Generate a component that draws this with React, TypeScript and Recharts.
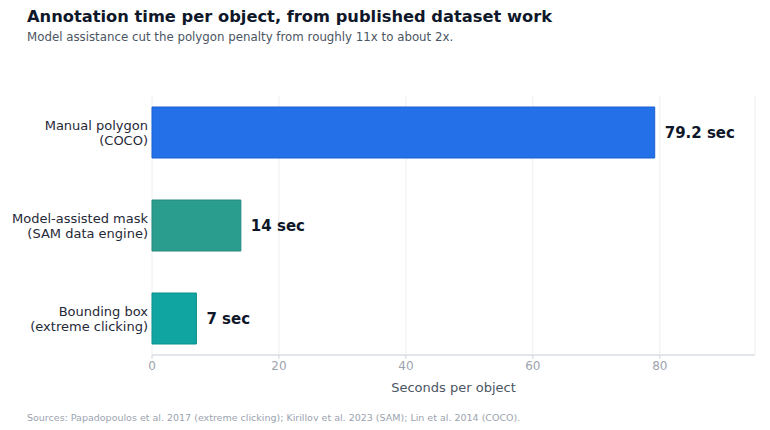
import React from "react";
import { Bar, BarChart, CartesianGrid, Cell, LabelList, XAxis, YAxis } from "recharts";

const categories = [
  "Manual polygon\n(COCO)",
  "Model-assisted mask\n(SAM data engine)",
  "Bounding box\n(extreme clicking)",
];
const seconds = [79.2, 14, 7];
const valueLabels = ["79.2 sec", "14 sec", "7 sec"];
const xTicks = [0, 20, 40, 60, 80];

const FILLS = ["#2370e8", "#2a9d8f", "#10a5a1"];
const STROKES = ["#1b5fd0", "#238a7d", "#0c8f8b"];
const FONT = "'DejaVu Sans', Verdana, sans-serif";

const data = categories.map((name, i) => ({ name, seconds: seconds[i], label: valueLabels[i] }));

function CategoryTick({ x, y, payload }: any) {
  const lines = String(payload.value).split("\n");
  return (
    <text x={x} y={y} textAnchor="end" fill="#1f2937" fontSize={13} fontFamily={FONT}>
      {lines.map((line, i) => (
        <tspan key={i} x={x} dy={i === 0 ? -(lines.length - 1) * 7.5 + 4.5 : 15}>
          {line}
        </tspan>
      ))}
    </text>
  );
}

export default function App() {
  return (
    <div
      style={{
        position: "absolute",
        left: 0,
        top: 0,
        width: 770,
        height: 430,
        background: "#fff",
        fontFamily: FONT,
      }}
    >
      <div style={{ position: "absolute", left: 27, top: 7, fontSize: 16.3, fontWeight: 700, color: "#0f172a" }}>
        Annotation time per object, from published dataset work
      </div>
      <div style={{ position: "absolute", left: 27, top: 30, fontSize: 11.8, color: "#4b5563" }}>
        Model assistance cut the polygon penalty from roughly 11x to about 2x.
      </div>

      <div style={{ position: "absolute", left: 0, top: 0 }}>
        <BarChart
          width={770}
          height={400}
          data={data}
          layout="vertical"
          margin={{ top: 96, right: 15, bottom: 0, left: 0 }}
          barCategoryGap={21}
        >
          <CartesianGrid horizontal={false} stroke="#eceef1" />
          <XAxis
            type="number"
            domain={[0, 95]}
            ticks={xTicks}
            tick={{ fill: "#9ca3af", fontSize: 12, fontFamily: FONT }}
            tickLine={{ stroke: "#d1d5db" }}
            tickSize={4}
            axisLine={{ stroke: "#d8dce2", strokeWidth: 1.5 }}
            height={45}
            label={{
              value: "Seconds per object",
              position: "insideBottom",
              offset: 8,
              fill: "#4b5563",
              fontSize: 13,
              fontFamily: FONT,
            }}
          />
          <YAxis
            type="category"
            dataKey="name"
            width={152}
            tick={<CategoryTick />}
            tickLine={false}
            axisLine={false}
            tickSize={0}
            tickMargin={4}
            padding={{ top: -10, bottom: -10 }}
          />
          <Bar dataKey="seconds" isAnimationActive={false}>
            {data.map((d, i) => (
              <Cell key={d.name} fill={FILLS[i]} stroke={STROKES[i]} strokeWidth={1} />
            ))}
            <LabelList
              dataKey="label"
              position="right"
              offset={10}
              fill="#0f172a"
              fontSize={15}
              fontWeight={700}
              fontFamily={FONT}
            />
          </Bar>
        </BarChart>
      </div>

      <div style={{ position: "absolute", left: 27, top: 412, fontSize: 9.5, color: "#9ca3af" }}>
        Sources: Papadopoulos et al. 2017 (extreme clicking); Kirillov et al. 2023 (SAM); Lin et al. 2014 (COCO).
      </div>
    </div>
  );
}
